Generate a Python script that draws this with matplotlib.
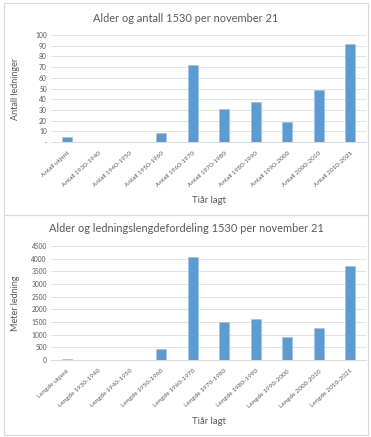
import matplotlib
matplotlib.use("Agg")
import matplotlib.pyplot as plt
from matplotlib.patches import Rectangle

plt.rcParams['font.family'] = ['Lato', 'DejaVu Sans']

periods = ["ukjent", "1930-1940", "1940-1950", "1950-1960", "1960-1970",
           "1970-1980", "1980-1990", "1990-2000", "2000-2010", "2010-2021"]
antall = [5, 0, 0, 8, 72, 31, 37, 19, 49, 92]
lengde = [20, 0, 0, 440, 4060, 1500, 1630, 900, 1250, 3720]

antall_labels = ["Antall " + p for p in periods]
lengde_labels = ["Lengde " + p for p in periods]

W, H = 371, 437
BAR = "#5B9BD5"
GRID = "#E3E3E3"
TXT = "#595959"

fig = plt.figure(figsize=(W / 100, H / 100), dpi=100)
fig.patch.set_facecolor("white")

# panel frames
for (y0, y1) in [(3, 215), (215, 435)]:
    fig.patches.append(Rectangle((4 / W, 1 - y1 / H), 364 / W, (y1 - y0) / H,
                                 transform=fig.transFigure, fill=False,
                                 edgecolor="#D9D9D9", linewidth=0.8))


def panel(top_px, bottom_px, values, labels, ymax, step, title, title_y, ylabel,
          xlabel_y, dash_zero):
    left, right = 51, 366
    ax = fig.add_axes([left / W, 1 - bottom_px / H, (right - left) / W,
                       (bottom_px - top_px) / H])
    x = range(len(values))
    ax.bar(x, values, width=0.33, color=BAR, edgecolor="#9DC3E6", linewidth=0.4,
           zorder=3)
    ax.set_xlim(-0.5, len(values) - 0.5)
    ax.set_ylim(0, ymax)
    ticks = list(range(0, ymax + 1, step))
    ax.set_yticks(ticks)
    ax.set_yticklabels([("-" if (t == 0 and dash_zero) else str(t)) for t in ticks],
                       fontsize=4.8, color=TXT)
    ax.set_xticks(list(x))
    ax.set_xticklabels(labels, rotation=42, ha="right", rotation_mode="anchor",
                       fontsize=4.6, color=TXT)
    ax.tick_params(axis="y", length=0, pad=3)
    ax.tick_params(axis="x", length=0, pad=6)
    ax.grid(axis="y", color=GRID, linewidth=0.7, zorder=0)
    for s in ["top", "right", "left"]:
        ax.spines[s].set_visible(False)
    ax.spines["bottom"].set_color("#D9D9D9")
    ax.spines["bottom"].set_linewidth(0.7)
    ax.set_ylabel(ylabel, fontsize=6.5, color=TXT)
    ax.yaxis.set_label_coords(-(left - 20) / (right - left), 0.5)
    fig.text(186 / W, 1 - title_y / H, title, ha="center",
             va="center", fontsize=7.9, color=TXT)
    fig.text((left + right) / 2 / W, 1 - xlabel_y / H, "Tiår lagt", ha="center",
             va="center", fontsize=6.8, color=TXT)
    return ax


panel(35, 142, antall, antall_labels, 100, 10,
      "Alder og antall 1530 per november 21", 18, "Antall ledninger", 200, True)
panel(246, 360, lengde, lengde_labels, 4500, 500,
      "Alder og ledningslengdefordeling 1530 per november 21", 229,
      "Meter ledning", 421, False)

fig.savefig("out.png", dpi=100, facecolor="white")
